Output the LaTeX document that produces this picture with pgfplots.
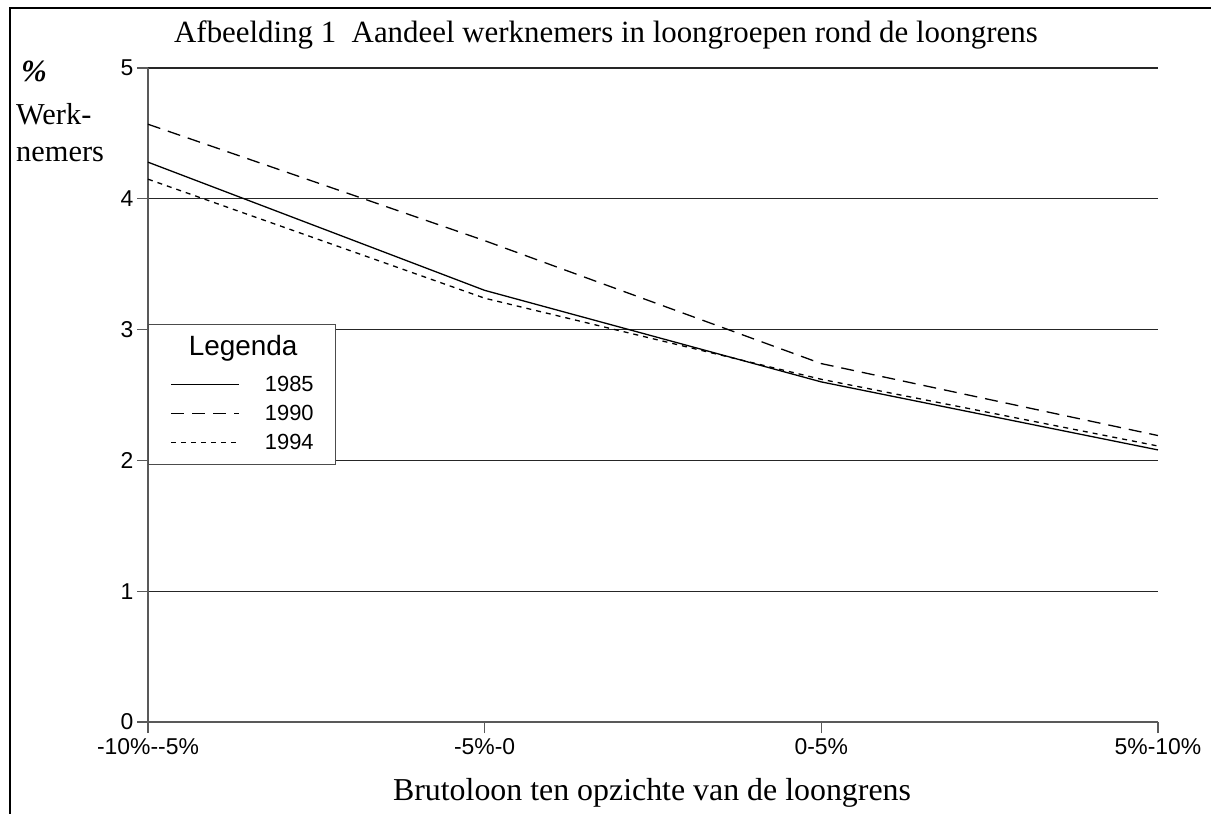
\documentclass[border=0pt]{standalone}
\usepackage{fontspec}
\setmainfont{Liberation Serif}
\newfontfamily\arial{Liberation Sans}
\usepackage{pgfplots}
\pgfplotsset{compat=1.18}
\pgfplotsset{
  legtop/.style={legend image code/.code={\draw[##1] (0bp,0bp) -- (68bp,0bp); \path[draw=none,fill=none] (0bp,0bp) -- (0bp,15bp);}},
  legbot/.style={legend image code/.code={\draw[##1] (0bp,0bp) -- (68bp,0bp); \path[draw=none,fill=none] (0bp,0bp) -- (0bp,-10.5bp);}},
}
\begin{document}
\begin{tikzpicture}
\path[use as bounding box] (0bp,0bp) rectangle (1211bp,814bp);
\draw[line width=2.5bp] (10bp,0bp) -- (10bp,806bp) -- (1211bp,806bp);
\node[anchor=base,font=\fontsize{31}{31}\selectfont] at (606bp,771bp) {Afbeelding 1\ \ Aandeel werknemers in loongroepen rond de loongrens};
\node[anchor=base west,inner sep=0pt,font=\fontsize{31}{31}\selectfont\bfseries\itshape] at (21bp,732bp) {\%};
\node[anchor=base west,inner sep=0pt,font=\fontsize{30.5}{30}\selectfont] at (16bp,689bp) {Werk-};
\node[anchor=base west,inner sep=0pt,font=\fontsize{30.5}{30}\selectfont] at (16bp,652bp) {nemers};
\node[anchor=base,font=\fontsize{32}{32}\selectfont] at (652bp,14bp) {Brutoloon ten opzichte van de loongrens};
\begin{axis}[
  at={(148bp,92bp)}, anchor=south west, scale only axis,
  width=1010bp, height=654bp,
  xmin=0, xmax=3, ymin=0, ymax=5,
  axis lines=left, axis line style={-, draw=black!65, line width=1.2bp},
  xtick={0,1,2,3},
  xticklabels={-10\%-\kern0pt-5\%, -5\%-0, 0-5\%, 5\%-10\%},
  ytick={0,1,2,3,4,5},
  tick style={draw=black!65, line width=1.2bp},
  tick align=outside, major tick length=11bp,
  ymajorgrids, grid style={draw=black!85, line width=1.2bp},
  ticklabel style={font=\arial\fontsize{23}{23}\selectfont},
  xticklabel style={yshift=-2bp},
  /pgf/number format/assume math mode=true,
  clip=false,
  legend style={at={(0,0.6086)}, anchor=north west,
    draw=black!70, line width=1.2bp, fill=white,
    font=\arial\fontsize{22}{22}\selectfont,
    nodes={inner sep=0bp},
    inner xsep=22bp, inner ysep=11bp,
    row sep=12.25bp, column sep=25bp,
    cells={anchor=west}},
  legend image code/.code={\draw[#1] (0bp,0bp) -- (68bp,0bp);},
]
\addlegendimage{empty legend}
\addlegendentry{\hspace*{-76bp}\fontsize{28}{28}\selectfont Legenda}
\addplot[black, line width=1.3bp, legtop]
  coordinates {(0,4.28) (1,3.30) (2,2.60) (3,2.08)};
\addlegendentry{1985}
\addplot[black, line width=1.3bp, dash pattern=on 13bp off 8bp] coordinates {(0,4.57) (1,3.68) (2,2.74) (3,2.19)};
\addlegendentry{1990}
\addplot[black, line width=1.3bp, dash pattern=on 5bp off 5bp, legbot]
  coordinates {(0,4.15) (1,3.24) (2,2.62) (3,2.11)};
\addlegendentry{1994}
\end{axis}
\end{tikzpicture}
\end{document}
